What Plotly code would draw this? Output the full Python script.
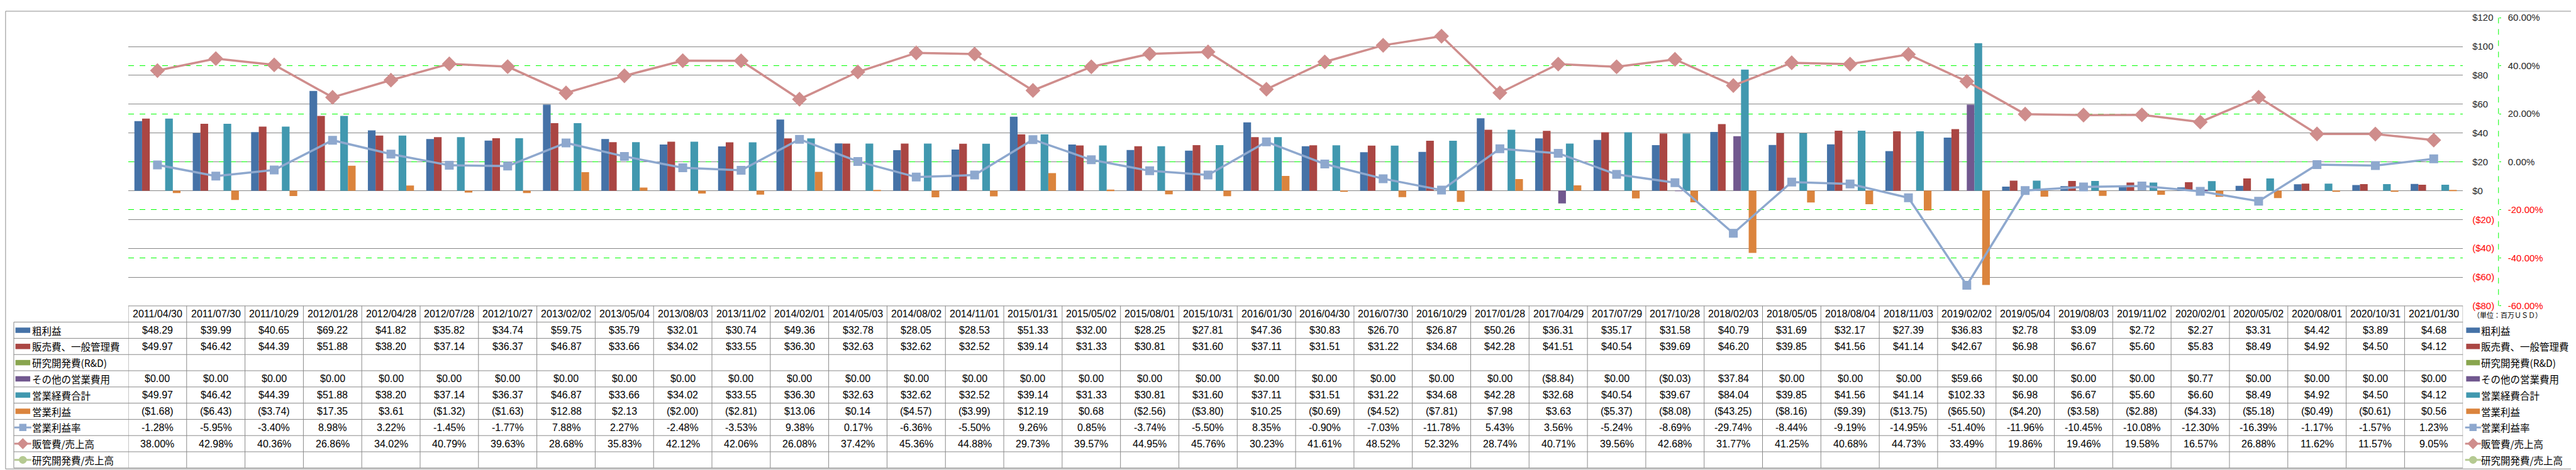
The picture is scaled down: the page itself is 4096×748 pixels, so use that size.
import plotly.graph_objects as go

# ---------------- data ----------------
dates = ["2011/04/30", "2011/07/30", "2011/10/29", "2012/01/28", "2012/04/28", "2012/07/28", "2012/10/27",
         "2013/02/02", "2013/05/04", "2013/08/03", "2013/11/02", "2014/02/01", "2014/05/03", "2014/08/02",
         "2014/11/01", "2015/01/31", "2015/05/02", "2015/08/01", "2015/10/31", "2016/01/30", "2016/04/30",
         "2016/07/30", "2016/10/29", "2017/01/28", "2017/04/29", "2017/07/29", "2017/10/28", "2018/02/03",
         "2018/05/05", "2018/08/04", "2018/11/03", "2019/02/02", "2019/05/04", "2019/08/03", "2019/11/02",
         "2020/02/01", "2020/05/02", "2020/08/01", "2020/10/31", "2021/01/30"]

gross_profit = [48.29, 39.99, 40.65, 69.22, 41.82, 35.82, 34.74, 59.75, 35.79, 32.01, 30.74, 49.36, 32.78, 28.05,
                28.53, 51.33, 32.00, 28.25, 27.81, 47.36, 30.83, 26.70, 26.87, 50.26, 36.31, 35.17, 31.58, 40.79,
                31.69, 32.17, 27.39, 36.83, 2.78, 3.09, 2.72, 2.27, 3.31, 4.42, 3.89, 4.68]

sga = [49.97, 46.42, 44.39, 51.88, 38.20, 37.14, 36.37, 46.87, 33.66, 34.02, 33.55, 36.30, 32.63, 32.62,
       32.52, 39.14, 31.33, 30.81, 31.60, 37.11, 31.51, 31.22, 34.68, 42.28, 41.51, 40.54, 39.69, 46.20,
       39.85, 41.56, 41.14, 42.67, 6.98, 6.67, 5.60, 5.83, 8.49, 4.92, 4.50, 4.12]

rnd = [None, None, None, None, None, None, None, None, None, None, None, None, None, None,
       None, None, None, None, None, None, None, None, None, None, None, None, None, None,
       None, None, None, None, None, None, None, None, None, None, None, None]

other_opex = [0.00, 0.00, 0.00, 0.00, 0.00, 0.00, 0.00, 0.00, 0.00, 0.00, 0.00, 0.00, 0.00, 0.00,
              0.00, 0.00, 0.00, 0.00, 0.00, 0.00, 0.00, 0.00, 0.00, 0.00, -8.84, 0.00, -0.03, 37.84,
              0.00, 0.00, 0.00, 59.66, 0.00, 0.00, 0.00, 0.77, 0.00, 0.00, 0.00, 0.00]

total_opex = [49.97, 46.42, 44.39, 51.88, 38.20, 37.14, 36.37, 46.87, 33.66, 34.02, 33.55, 36.30, 32.63, 32.62,
              32.52, 39.14, 31.33, 30.81, 31.60, 37.11, 31.51, 31.22, 34.68, 42.28, 32.68, 40.54, 39.67, 84.04,
              39.85, 41.56, 41.14, 102.33, 6.98, 6.67, 5.60, 6.60, 8.49, 4.92, 4.50, 4.12]

op_income = [-1.68, -6.43, -3.74, 17.35, 3.61, -1.32, -1.63, 12.88, 2.13, -2.00, -2.81, 13.06, 0.14, -4.57,
             -3.99, 12.19, 0.68, -2.56, -3.80, 10.25, -0.69, -4.52, -7.81, 7.98, 3.63, -5.37, -8.08, -43.25,
             -8.16, -9.39, -13.75, -65.50, -4.20, -3.58, -2.88, -4.33, -5.18, -0.49, -0.61, 0.56]

op_margin = [-1.28, -5.95, -3.40, 8.98, 3.22, -1.45, -1.77, 7.88, 2.27, -2.48, -3.53, 9.38, 0.17, -6.36,
             -5.50, 9.26, 0.85, -3.74, -5.50, 8.35, -0.90, -7.03, -11.78, 5.43, 3.56, -5.24, -8.69, -29.74,
             -8.44, -9.19, -14.95, -51.40, -11.96, -10.45, -10.08, -12.30, -16.39, -1.17, -1.57, 1.23]

sga_ratio = [38.00, 42.98, 40.36, 26.86, 34.02, 40.79, 39.63, 28.68, 35.83, 42.12, 42.06, 26.08, 37.42, 45.36,
             44.88, 29.73, 39.57, 44.95, 45.76, 30.23, 41.61, 48.52, 52.32, 28.74, 40.71, 39.56, 42.68, 31.77,
             41.25, 40.68, 44.73, 33.49, 19.86, 19.46, 19.58, 16.57, 26.88, 11.62, 11.57, 9.05]

rnd_ratio = [None, None, None, None, None, None, None, None, None, None, None, None, None, None,
             None, None, None, None, None, None, None, None, None, None, None, None, None, None,
             None, None, None, None, None, None, None, None, None, None, None, None]

usd_ticks = [-80, -60, -40, -20, 0, 20, 40, 60, 80, 100, 120]
pct_ticks = [-60, -40, -20, 0, 20, 40, 60]
unit_label = "（単位：百万ＵＳＤ）"

# ---------------- styles ----------------
C_GROSS = "#4572A7"
C_SGA = "#AA4643"
C_RND = "#89A54E"
C_OTHER = "#71588F"
C_OPEX = "#4198AF"
C_OPINC = "#DB843D"
C_MARGIN = "#8EA8CE"
C_SGAR = "#CF8D8C"
C_RNDR = "#B5CA92"

K = 0.871
FW, FH = 4096, 748
XMAX = FW / K
YMAX = FH / K


def fx(x):
    return x / XMAX


def fy(y):
    return 1 - y / YMAX


PL, PR, PT, PB = 225, 4487, 13.2, 552
ROW = 30.3
NROWS = 10
TABLE_BOTTOM = PB + ROW * NROWS
GRID = "#8A8A8A"
TXT = "#000000"
NUMFONT = "Liberation Sans"
JPFONT = "Noto Sans CJK JP"


def fmt_money(v):
    if v is None:
        return ""
    if v < 0:
        return "(${:.2f})".format(-v)
    return "${:.2f}".format(v)


def fmt_pct(v):
    if v is None:
        return ""
    return "{:.2f}%".format(v)


def red(s):
    return "<span style='color:#FF0000'>" + s + "</span>"


usd_text = []
for t in usd_ticks:
    if t < 0:
        usd_text.append(red("(${})".format(-t)))
    else:
        usd_text.append("${}".format(t))
pct_text = []
for t in pct_ticks:
    s = "{:.2f}%".format(t)
    pct_text.append(red(s) if t < 0 else s)

fig = go.Figure()

bar_series = [
    ("粗利益", gross_profit, C_GROSS),
    ("販売費、一般管理費", sga, C_SGA),
    ("研究開発費(R&D)", rnd, C_RND),
    ("その他の営業費用", other_opex, C_OTHER),
    ("営業経費合計", total_opex, C_OPEX),
    ("営業利益", op_income, C_OPINC),
]
for name, vals, col in bar_series:
    fig.add_trace(go.Bar(x=dates, y=vals, name=name, marker=dict(color=col, line=dict(width=0)),
                         showlegend=False, xaxis="x", yaxis="y"))

line_series = [
    ("営業利益率", op_margin, C_MARGIN, "square", 12),
    ("販管費/売上高", sga_ratio, C_SGAR, "diamond", 16),
    ("研究開発費/売上高", rnd_ratio, C_RNDR, "circle", 12),
]
for name, vals, col, sym, size in line_series:
    fig.add_trace(go.Scatter(x=dates, y=vals, name=name, mode="lines+markers", xaxis="x", yaxis="y2",
                             line=dict(color=col, width=3.5),
                             marker=dict(symbol=sym, size=size, color=col, line=dict(color=col, width=2)),
                             showlegend=False))

# ---------------- data table + legend ----------------
table_rows = [
    ("粗利益", gross_profit, "money", ("bar", C_GROSS)),
    ("販売費、一般管理費", sga, "money", ("bar", C_SGA)),
    ("研究開発費(R&D)", rnd, "money", ("bar", C_RND)),
    ("その他の営業費用", other_opex, "money", ("bar", C_OTHER)),
    ("営業経費合計", total_opex, "money", ("bar", C_OPEX)),
    ("営業利益", op_income, "money", ("bar", C_OPINC)),
    ("営業利益率", op_margin, "pct", ("line", C_MARGIN, "square", 10)),
    ("販管費/売上高", sga_ratio, "pct", ("line", C_SGAR, "diamond", 12)),
    ("研究開発費/売上高", rnd_ratio, "pct", ("line", C_RNDR, "circle", 11)),
]

annotations = []
shapes = []

# date row (category labels)
yc0 = PB + ROW / 2
for d in dates:
    annotations.append(dict(x=d, xref="x", y=yc0, yref="y3", text=d, showarrow=False,
                            font=dict(family=NUMFONT, size=16, color=TXT), xanchor="center", yanchor="middle"))
annotations.append(dict(x=4503, xref="x3", y=yc0 + 2, yref="y3", text=unit_label, showarrow=False,
                        font=dict(family=JPFONT, size=11, color=TXT), xanchor="left", yanchor="middle"))

for r, (name, vals, kind, key) in enumerate(table_rows):
    yc = PB + ROW * (r + 1) + ROW / 2
    for d, v in zip(dates, vals):
        s = fmt_money(v) if kind == "money" else fmt_pct(v)
        if s:
            annotations.append(dict(x=d, xref="x", y=yc, yref="y3", text=s, showarrow=False,
                                    font=dict(family=NUMFONT, size=16, color=TXT),
                                    xanchor="center", yanchor="middle"))
    for (kx0, kx1, tx) in [(19, 46, 48), (4493, 4518, 4519)]:
        annotations.append(dict(x=tx, xref="x3", y=yc, yref="y3", text=name, showarrow=False,
                                font=dict(family=JPFONT, size=15.5, color=TXT), xanchor="left",
                                yanchor="middle", borderpad=0))
        if key[0] == "bar":
            shapes.append(dict(type="rect", xref="x3", yref="y3", x0=kx0, x1=kx1, y0=yc - 5, y1=yc + 5,
                               fillcolor=key[1], line=dict(width=0)))
        else:
            lx0, lx1 = kx0 - 2, kx1 + 2
            fig.add_trace(go.Scatter(x=[lx0, lx1], y=[yc, yc], mode="lines", xaxis="x3", yaxis="y3",
                                     line=dict(color=key[1], width=3), showlegend=False, hoverinfo="skip"))
            fig.add_trace(go.Scatter(x=[(lx0 + lx1) / 2], y=[yc], mode="markers", xaxis="x3", yaxis="y3",
                                     marker=dict(symbol=key[2], size=key[3], color=key[1],
                                                 line=dict(color=key[1], width=1.5)),
                                     showlegend=False, hoverinfo="skip"))

# table grid lines
for r in range(1, NROWS + 1):
    shapes.append(dict(type="line", xref="x3", yref="y3", x0=16, x1=PR, y0=PB + ROW * r, y1=PB + ROW * r,
                       line=dict(color=GRID, width=1)))
shapes.append(dict(type="line", xref="x3", yref="y3", x0=PL, x1=PR, y0=PB, y1=PB,
                   line=dict(color=GRID, width=1)))
shapes.append(dict(type="line", xref="x3", yref="y3", x0=16, x1=16, y0=PB + ROW, y1=TABLE_BOTTOM,
                   line=dict(color=GRID, width=1)))
for i in range(len(dates) + 1):
    shapes.append(dict(type="line", xref="x", yref="y3", x0=i - 0.5, x1=i - 0.5, y0=PB, y1=TABLE_BOTTOM,
                       line=dict(color=GRID, width=1)))

# secondary axis line (green dashed)
shapes.append(dict(type="line", xref="x3", yref="y3", x0=4552, x1=4552, y0=PT, y1=PB,
                   line=dict(color="#00FF00", width=1, dash="dash")))
# outer frame
shapes.append(dict(type="rect", xref="x3", yref="y3", x0=1, x1=XMAX - 2, y0=1, y1=YMAX - 2,
                   line=dict(color="#8C8C8C", width=1), fillcolor="rgba(0,0,0,0)"))

fig.update_layout(
    width=FW, height=FH, autosize=False,
    margin=dict(l=0, r=0, t=0, b=0, pad=0),
    paper_bgcolor="white", plot_bgcolor="rgba(0,0,0,0)",
    font=dict(family=NUMFONT, size=15, color="#262626"),
    barmode="group", bargap=0.21, bargroupgap=0,
    showlegend=False,
    xaxis=dict(domain=[fx(PL), fx(PR)], type="category", range=[-0.5, len(dates) - 0.5],
               showticklabels=False, showgrid=False, zeroline=False, ticks="", showline=False,
               anchor="y"),
    yaxis=dict(domain=[fy(PB), fy(PT)], range=[-80, 120], side="right", anchor="x",
               tickvals=usd_ticks, ticktext=usd_text, showgrid=True, gridcolor="#868686", gridwidth=1,
               zeroline=False, ticks="", showline=False, ticklabelstandoff=14,
               tickfont=dict(family=NUMFONT, size=15, color="#262626")),
    yaxis2=dict(overlaying="y", side="right", anchor="free", position=fx(4552), range=[-60, 60],
                tickvals=pct_ticks, ticktext=pct_text, showgrid=True, gridcolor="#00FF00",
                griddash="dash", gridwidth=1, zeroline=False, ticks="outside", ticklen=3,
                tickcolor="#00FF00", tickwidth=1, showline=False, ticklabelstandoff=8,
                tickfont=dict(family=NUMFONT, size=15, color="#262626")),
    xaxis3=dict(domain=[0, 1], range=[0, XMAX], visible=False, anchor="y3", fixedrange=True),
    yaxis3=dict(domain=[0, 1], range=[YMAX, 0], visible=False, anchor="x3", fixedrange=True),
    annotations=annotations,
    shapes=shapes,
)

fig.write_html("out.html")
